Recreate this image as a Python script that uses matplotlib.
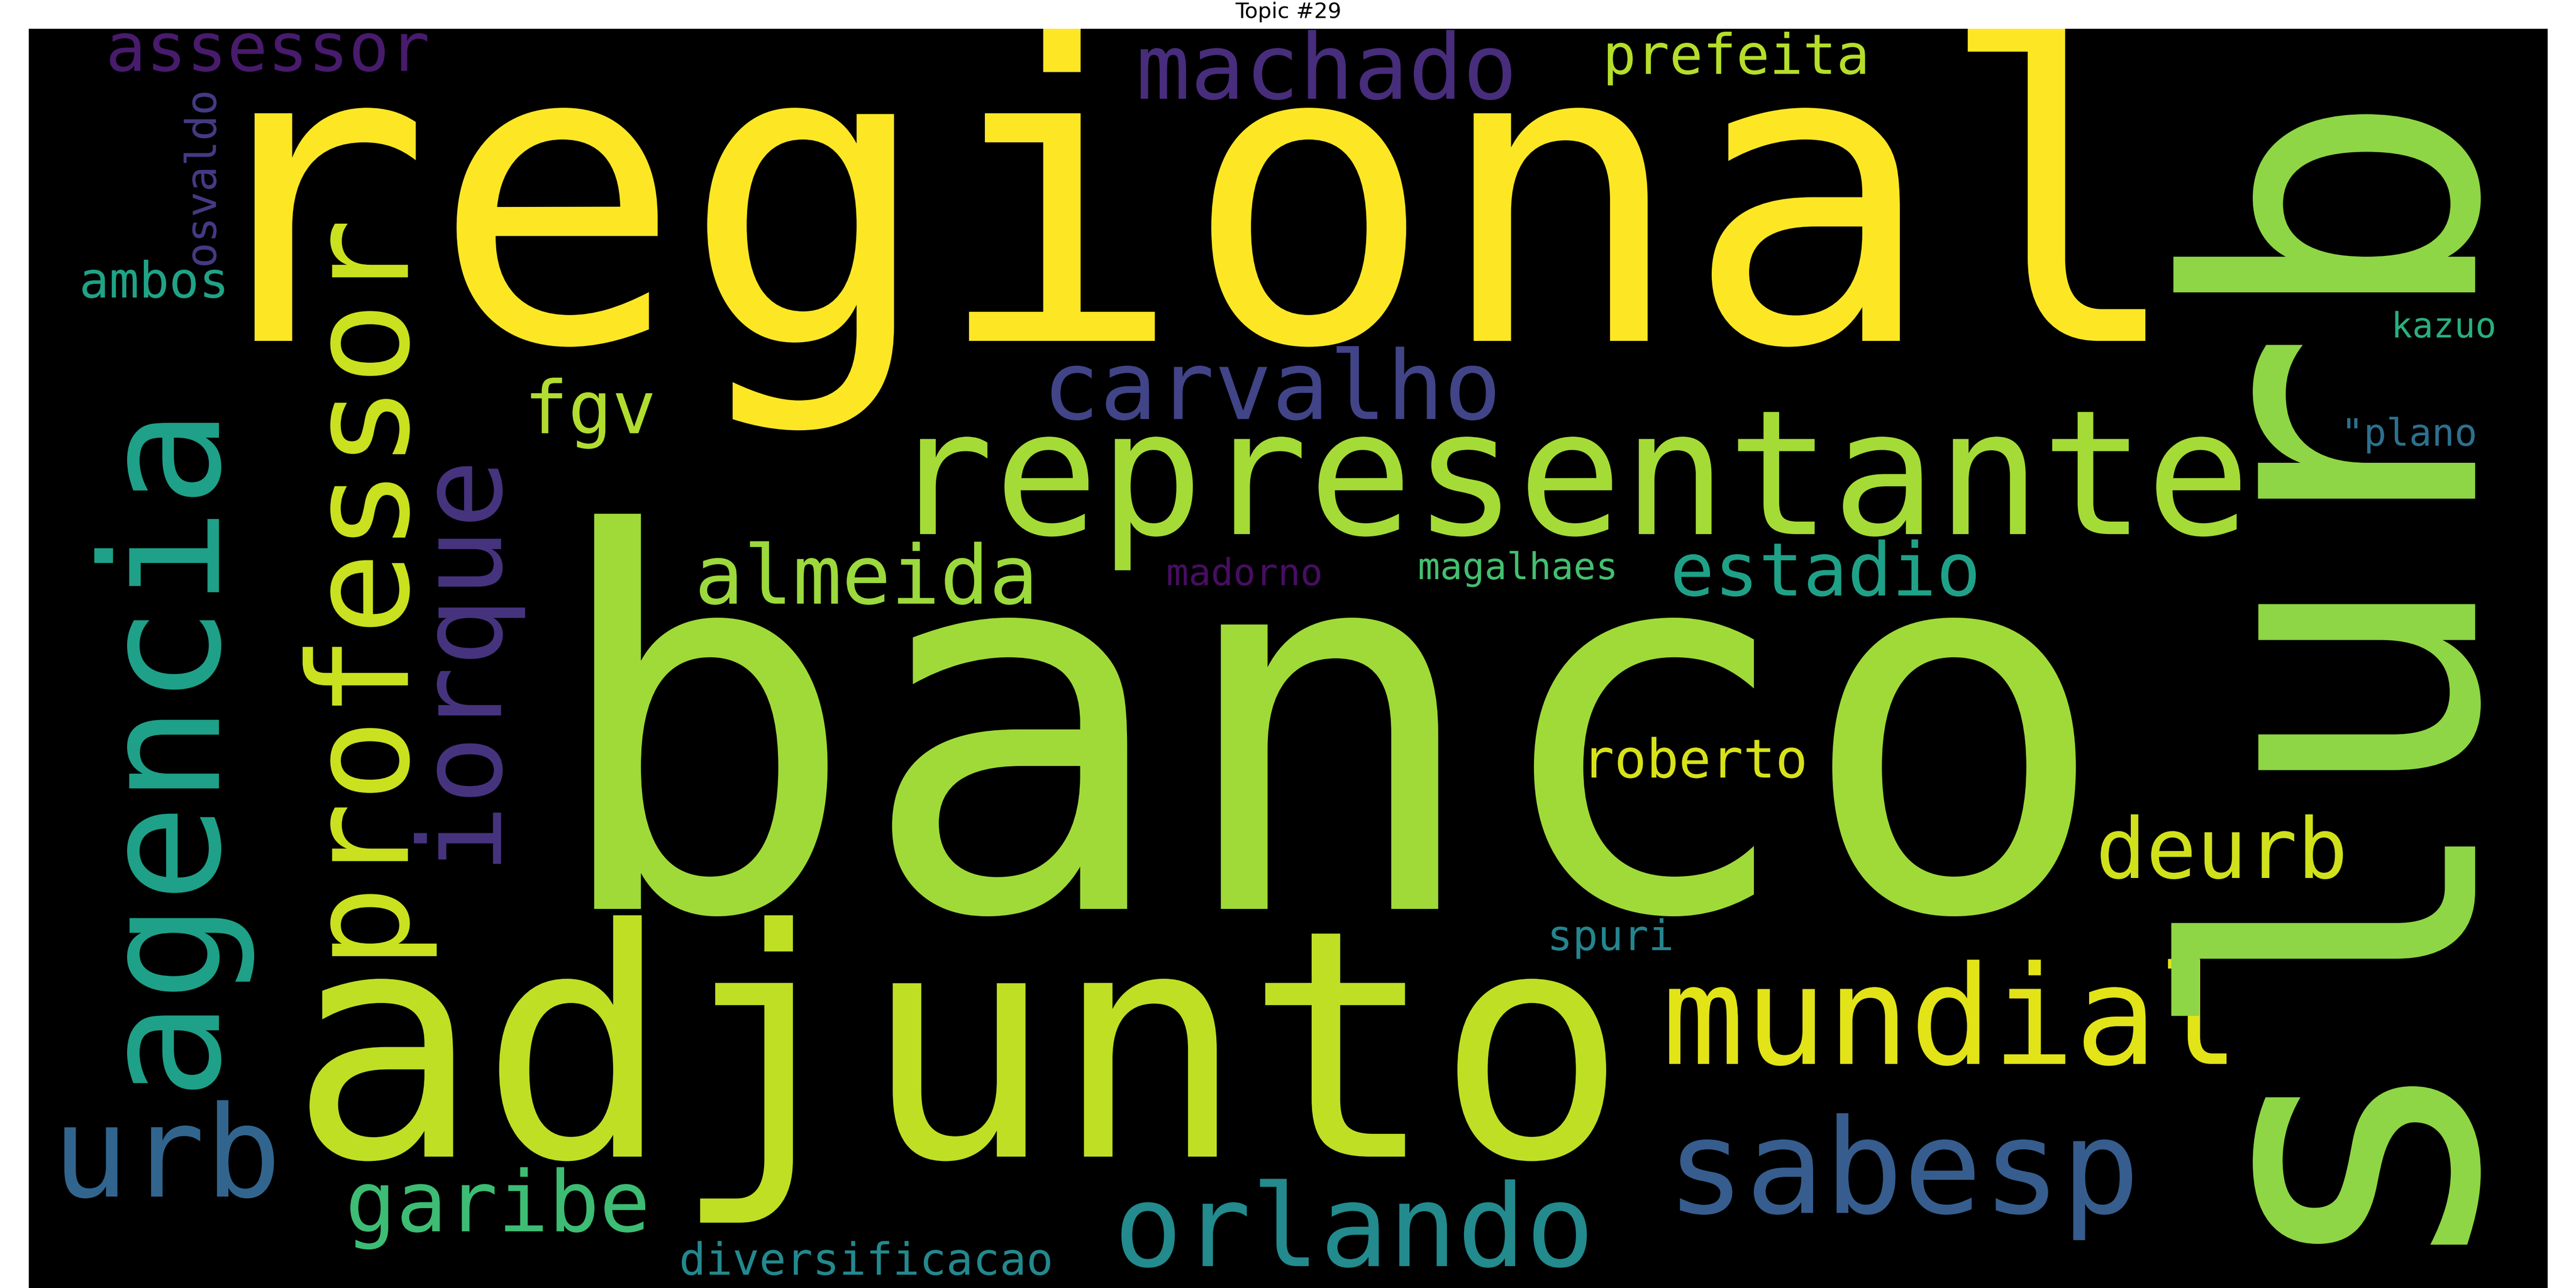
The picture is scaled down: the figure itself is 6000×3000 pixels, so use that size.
import matplotlib
matplotlib.use("Agg")
import matplotlib.pyplot as plt
from matplotlib.textpath import TextPath
from matplotlib.patches import PathPatch
from matplotlib.font_manager import FontProperties
import matplotlib.transforms as mtrans

# ---------------- data ----------------
# horizontal words: ink left, ink right, baseline (word-cloud pixel grid)
h_words = ["regional", "banco", "adjunto", "representante", "mundial", "sabesp",
           "orlando", "urb", "carvalho", "machado", "almeida", "estadio", "deurb",
           "garibe", "assessor", "prefeita", "fgv", "roberto", "ambos",
           "diversificacao", "magalhaes", "madorno", "spuri", "kazuo", "\"plano"]
h_x0 = [593, 1384, 721, 2143, 3888, 3913, 2612, 150, 2449, 2657, 1630, 3900, 4893,
        816, 256, 3745, 1237, 3707, 192, 1588, 3307, 2721, 3614, 5579, 5467]
h_x1 = [4997, 4835, 3741, 5218, 5186, 4966, 3696, 638, 3482, 3520, 2402, 4602, 5457,
        1503, 995, 4344, 1520, 4202, 522, 2446, 3760, 3075, 3892, 5809, 5764]
h_base = [794, 2117, 2694, 1244, 2478, 2825, 2949, 2787, 976, 230, 1406, 1387, 2045,
          2868, 165, 172, 1009, 1811, 693, 2969, 1349, 1363, 2213, 786, 1038]
h_colors = ["#fde725", "#a0da39", "#bfdf25", "#a5db36", "#e2e418", "#365d8d",
            "#238a8d", "#32658e", "#414487", "#472d7b", "#9bd93c", "#1fa188", "#d0e11c",
            "#3dbc74", "#481b6d", "#b5de2b", "#b0dd2f", "#d8e219", "#20a386",
            "#23898e", "#44bf70", "#470e61", "#25858e", "#29af7f", "#2d708e"]

# vertical words (rotated 90 deg, read bottom to top): ink bottom, ink top, baseline x
v_words = ["slurb", "agencia", "professor", "iorque", "osvaldo"]
v_y0 = [2899, 2538, 2227, 2012, 618]
v_y1 = [266, 985, 521, 1086, 216]
v_base = [5765, 510, 950, 1167, 503]
v_colors = ["#8ed645", "#1fa088", "#cae11f", "#46337e", "#443a83"]

title = "Topic #29"

# ---------------- figure ----------------
fig = plt.figure(figsize=(20, 10), dpi=300)
ax = fig.add_axes([67 / 6000, 0, 5867 / 6000, 2933 / 3000])
ax.set_xlim(67, 5934)
ax.set_ylim(3000, 67)
ax.set_facecolor("black")
ax.set_xticks([])
ax.set_yticks([])
for sp in ax.spines.values():
    sp.set_visible(False)

fp = FontProperties(family="DejaVu Sans Mono")

for w, x0, x1, b, c in zip(h_words, h_x0, h_x1, h_base, h_colors):
    tp = TextPath((0, 0), w, size=1, prop=fp)
    ext = tp.get_extents()
    s = (x1 - x0) / ext.width
    tr = mtrans.Affine2D.from_values(s, 0, 0, -s, x0 - ext.x0 * s, b)
    ax.add_patch(PathPatch(tr.transform_path(tp), facecolor=c, edgecolor="none", lw=0))

for w, y0, y1, b, c in zip(v_words, v_y0, v_y1, v_base, v_colors):
    tp = TextPath((0, 0), w, size=1, prop=fp)
    ext = tp.get_extents()
    s = (y0 - y1) / ext.width
    tr = mtrans.Affine2D.from_values(0, -s, -s, 0, b, y0 + ext.x0 * s)
    ax.add_patch(PathPatch(tr.transform_path(tp), facecolor=c, edgecolor="none", lw=0))

ax.set_title(title, fontsize=12)

fig.savefig("out.png", dpi=300)
